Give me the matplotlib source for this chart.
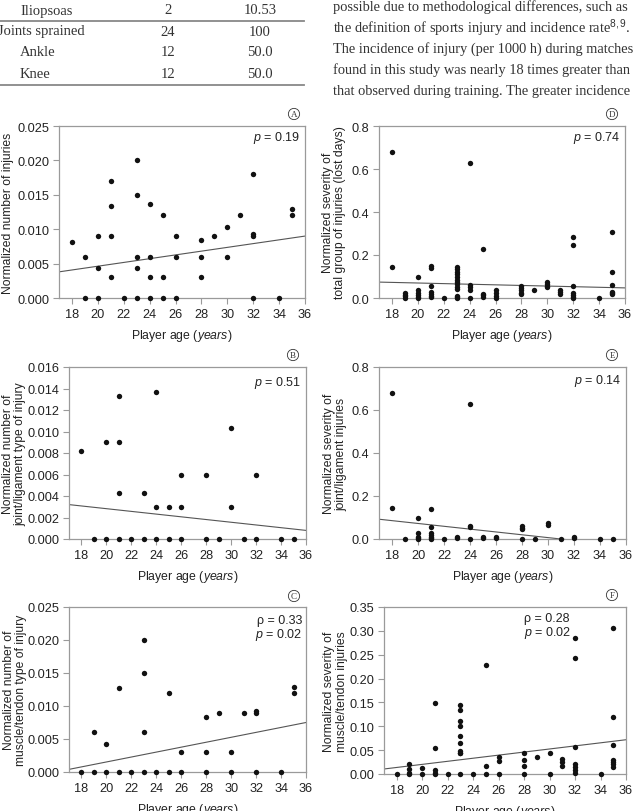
import matplotlib
matplotlib.use("Agg")
import matplotlib.pyplot as plt

plt.rcParams['font.family'] = ['Liberation Sans', 'DejaVu Sans']
plt.rcParams['mathtext.fontset'] = 'custom'
plt.rcParams['mathtext.rm'] = 'Liberation Sans'
plt.rcParams['mathtext.it'] = 'Liberation Sans:italic'

# ---- table fragment and paragraph at top of page ----
table_rows = ["Iliopsoas", "Joints sprained", "Ankle", "Knee"]
table_n = ["2", "24", "12", "12"]
table_pct = ["10.53", "100", "50.0", "50.0"]
table_indent = [True, False, True, True]

para_lines = [
    "possible due to methodological differences, such as",
    "the definition of sports injury and incidence rate$^{8,9}$.",
    "The incidence of injury (per 1000 h) during matches",
    "found in this study was nearly 18 times greater than",
    "that observed during training. The greater incidence",
]

# ---- data: player age vs normalized values ----
age_a = [18, 19, 19, 20, 20, 20, 21, 21, 21, 21, 22, 23, 23, 23, 23, 23,
         24, 24, 24, 24, 25, 25, 25, 26, 26, 26, 28, 28, 28, 29, 30, 30,
         31, 32, 32, 32, 32, 34, 35, 35]
val_a = [0.0082, 0.006, 0, 0.009, 0.0043, 0, 0.017, 0.0133, 0.009, 0.003,
         0, 0.020, 0.015, 0.006, 0.0043, 0, 0.0137, 0.006, 0.003, 0,
         0.012, 0.003, 0, 0.009, 0.006, 0, 0.0084, 0.006, 0.003, 0.009,
         0.0103, 0.006, 0.012, 0.018, 0.0093, 0.009, 0, 0, 0.0129, 0.012]
trend_a = [0.0038, 0.0090]

age_b = [18, 19, 20, 20, 21, 21, 21, 21, 22, 23, 23, 24, 24, 24, 25, 25,
         26, 26, 26, 28, 28, 29, 30, 30, 31, 32, 32, 34, 35]
val_b = [0.0082, 0, 0.009, 0, 0.0133, 0.009, 0.0043, 0, 0, 0.0043, 0,
         0.0137, 0.003, 0, 0.003, 0, 0.006, 0.003, 0, 0.006, 0, 0,
         0.0103, 0.003, 0, 0.006, 0, 0, 0]
trend_b = [0.0032, 0.0008]

age_c = [18, 19, 19, 20, 20, 21, 21, 22, 23, 23, 23, 23, 24, 25, 25, 26,
         26, 28, 28, 28, 29, 30, 30, 31, 32, 32, 32, 34, 35, 35]
val_c = [0, 0.006, 0, 0.0043, 0, 0.0128, 0, 0, 0.020, 0.015, 0.006, 0,
         0, 0.012, 0, 0.003, 0, 0.0084, 0.003, 0, 0.009, 0.003, 0, 0.009,
         0.0093, 0.009, 0, 0, 0.0129, 0.012]
trend_c = [0.0004, 0.0075]

age_d = [18, 18, 19, 19, 19, 19, 20, 20, 20, 20, 20, 20,
         21, 21, 21, 21, 21, 21, 21, 22,
         23, 23, 23, 23, 23, 23, 23, 23, 23, 23, 23, 23, 23,
         24, 24, 24, 24, 24, 25, 25, 25, 25, 26, 26, 26, 26,
         28, 28, 28, 28, 28, 29, 30, 30, 30, 30, 31, 31, 31,
         32, 32, 32, 32, 32, 32, 32, 34, 35, 35, 35, 35, 35, 35]
val_d = [0.68, 0.145, 0.025, 0.015, 0.008, 0, 0.10, 0.035, 0.025, 0.015, 0.005, 0,
         0.15, 0.14, 0.055, 0.03, 0.02, 0.01, 0.005, 0,
         0.145, 0.135, 0.12, 0.11, 0.10, 0.085, 0.075, 0.065, 0.05, 0.04, 0.01, 0.005, 0,
         0.63, 0.06, 0.05, 0.035, 0, 0.23, 0.02, 0.012, 0.004, 0.035, 0.025, 0.01, 0,
         0.055, 0.045, 0.035, 0.025, 0.02, 0.038, 0.075, 0.065, 0.055, 0.05, 0.035, 0.03, 0.02,
         0.285, 0.245, 0.057, 0.025, 0.015, 0.005, 0, 0, 0.305, 0.12, 0.06, 0.03, 0.025, 0.02]
trend_d = [0.074, 0.047]

age_e = [18, 18, 19, 20, 20, 20, 20, 20, 21, 21, 21, 21, 21, 21, 21, 22,
         23, 23, 24, 24, 24, 24, 25, 25, 26, 26, 28, 28, 28, 28, 29, 30, 30,
         31, 32, 32, 34, 35]
val_e = [0.68, 0.145, 0, 0.10, 0.03, 0.01, 0.005, 0, 0.14, 0.055, 0.03,
         0.02, 0.01, 0.005, 0, 0, 0.01, 0.005, 0.63, 0.06, 0.055, 0,
         0.008, 0.003, 0.01, 0.005, 0.06, 0.05, 0.045, 0, 0, 0.075, 0.065,
         0, 0.01, 0.005, 0, 0]
trend_e = [0.092, -0.033]

age_f = [18, 19, 19, 19, 19, 20, 20, 21, 21, 21, 21, 21, 22,
         23, 23, 23, 23, 23, 23, 23, 23, 23, 23, 24, 25, 25, 25, 26, 26, 26,
         28, 28, 28, 28, 29, 30, 30, 31, 31, 31,
         32, 32, 32, 32, 32, 32, 32, 34, 35, 35, 35, 35, 35, 35, 35]
val_f = [0, 0.02, 0.01, 0.003, 0, 0.012, 0, 0.149, 0.055, 0.008, 0.003, 0, 0,
         0.145, 0.135, 0.112, 0.10, 0.08, 0.064, 0.048, 0.045, 0.043, 0, 0,
         0.228, 0.017, 0, 0.035, 0.027, 0, 0.044, 0.03, 0.016, 0, 0.036,
         0.045, 0, 0.032, 0.025, 0.016,
         0.284, 0.243, 0.056, 0.02, 0.015, 0.008, 0.003, 0,
         0.305, 0.12, 0.06, 0.03, 0.025, 0.02, 0.015]
trend_f = [0.0105, 0.0718]

x_ends = [17, 36]
x_ticks = list(range(18, 37, 2))

W, H = 640, 812
fig = plt.figure(figsize=(6.4, 8.12), dpi=100)


def px_axes(l, t, r, b):
    return fig.add_axes([l / W, 1 - b / H, (r - l) / W, (b - t) / H])


def panel(rect, ages, vals, trend, ylim, yticks, fmt, ylabel, ylab_x,
          letter, letter_xy, stats, stats_xy, stats_ha='right'):
    ax = px_axes(*rect)
    ax.scatter(ages, vals, s=15, color='#111111', zorder=3, clip_on=False,
               linewidths=0)
    ax.plot(x_ends, trend, color='#555555', lw=0.8, zorder=2)
    ax.set_xlim(17, 36)
    ax.set_ylim(*ylim)
    ax.set_xticks(x_ticks)
    ax.set_yticks(yticks)
    ax.set_yticklabels([fmt.format(v) for v in yticks])
    for s in ax.spines.values():
        s.set_color('#9a9a9a')
        s.set_linewidth(0.9)
    ax.tick_params(direction='out', length=4, width=0.8, color='#9a9a9a',
                   labelsize=9.2, labelcolor='#222222', pad=3)
    ax.set_xlabel('Player age ($years$)', fontsize=8.8, color='#222222',
                  labelpad=5)
    ax.set_ylabel(ylabel, fontsize=8.7, color='#222222', va='center',
                  ha='center', linespacing=1.05)
    ax.yaxis.set_label_coords(ylab_x, 0.5)
    fig.text(letter_xy[0] / W, 1 - letter_xy[1] / H, letter,
             family='Liberation Serif', fontsize=6.5, ha='center',
             va='center', color='#333333',
             bbox=dict(boxstyle='circle,pad=0.18', fc='white',
                       ec='#333333', lw=0.6))
    for i, line in enumerate(stats):
        fig.text(stats_xy[0] / W, 1 - (stats_xy[1] + 14 * i) / H, line,
                 fontsize=9, ha=stats_ha, va='center', color='#222222')
    return ax


panel((59, 127, 305, 299), age_a, val_a, trend_a, (0, 0.025),
      [0, 0.005, 0.01, 0.015, 0.02, 0.025], '{:.3f}',
      'Normalized number of injuries', -0.207,
      'A', (294, 115), ['$p$ = 0.19'], (300, 138))

panel((379, 127, 625, 299), age_d, val_d, trend_d, (0, 0.8),
      [0, 0.2, 0.4, 0.6, 0.8], '{:.1f}',
      'Normalized severity of\ntotal group of injuries (lost days)', -0.183,
      'D', (612, 115), ['$p$ = 0.74'], (620, 138))

panel((69, 368, 306, 540), age_b, val_b, trend_b, (0, 0.016),
      [0, 0.002, 0.004, 0.006, 0.008, 0.01, 0.012, 0.014, 0.016], '{:.3f}',
      'Normalized number of\njoint/ligament type of injury', -0.232,
      'B', (293, 356), ['$p$ = 0.51'], (301, 383))

panel((379, 368, 626, 540), age_e, val_e, trend_e, (0, 0.8),
      [0, 0.2, 0.4, 0.6, 0.8], '{:.1f}',
      'Normalized severity of\njoint/ligament injuries', -0.178,
      'E', (612, 356), ['$p$ = 0.14'], (621, 381))

panel((69, 608, 306, 773), age_c, val_c, trend_c, (0, 0.025),
      [0, 0.005, 0.01, 0.015, 0.02, 0.025], '{:.3f}',
      'Normalized number of\nmuscle/tendon type of injury', -0.228,
      'C', (294, 597), ['\u03c1 = 0.33', '$p$ = 0.02'], (302, 621))

panel((384, 608, 626, 775), age_f, val_f, trend_f, (0, 0.35),
      [0, 0.05, 0.1, 0.15, 0.2, 0.25, 0.3, 0.35], '{:.2f}',
      'Normalized severity of\nmuscle/tendon injuries', -0.20,
      'F', (612, 596), ['\u03c1 = 0.28', '$p$ = 0.02'], (524, 619),
      stats_ha='left')

# ---- table fragment ----
row_y = [11, 32, 53, 75]
for name, n, pct, ind, y in zip(table_rows, table_n, table_pct,
                                table_indent, row_y):
    yy = 1 - y / H
    fig.text((20 if ind else -2) / W, yy, name, family='Liberation Serif',
             fontsize=10.5, va='center', ha='left', color='#333333')
    fig.text(168 / W, yy, n, family='Liberation Serif', fontsize=10.5,
             va='center', ha='center', color='#333333')
    fig.text(260 / W, yy, pct, family='Liberation Serif', fontsize=10.5,
             va='center', ha='center', color='#333333')
for y in [22, 86]:
    fig.add_artist(plt.Line2D([0, 304 / W], [1 - y / H, 1 - y / H],
                              color='#888888', lw=1.3))

para_y = [7, 28, 49, 70, 91]
for line, y in zip(para_lines, para_y):
    fig.text(333 / W, 1 - y / H, line, family='Liberation Serif',
             fontsize=10.4, va='center', ha='left', color='#333333')

fig.savefig('out.png', dpi=100)
